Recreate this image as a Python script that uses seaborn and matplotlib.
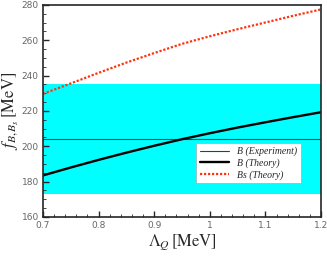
import numpy as np
import matplotlib
matplotlib.use("Agg")
import matplotlib.pyplot as plt
import seaborn as sns
import pandas as pd
from matplotlib.ticker import MultipleLocator

# data
lam = [0.70, 0.75, 0.80, 0.85, 0.90, 0.95, 1.00, 1.05, 1.10, 1.15, 1.20]
fB_theory = [183.5, 188.0, 192.3, 196.4, 200.3, 204.0, 207.4, 210.6, 213.6, 216.5, 219.3]
fBs_theory = [229.7, 235.6, 241.6, 247.4, 252.8, 258.0, 262.3, 266.3, 270.1, 273.9, 277.5]
fB_exp = 204.0
fB_exp_err = 31.0

df = pd.DataFrame({"lam": lam, "B": fB_theory, "Bs": fBs_theory})

sns.set_style("ticks")
plt.rcParams["mathtext.fontset"] = "stix"

fig = plt.figure(figsize=(3.27, 2.62), dpi=100)
ax = fig.add_axes([0.1315, 0.172, 0.8505, 0.809])

ax.axhspan(fB_exp - fB_exp_err, fB_exp + fB_exp_err, color="#00ffff", lw=0, zorder=0)
ax.axhline(fB_exp, color="#1a4a4a", lw=0.8, label="B (Experiment)")
sns.lineplot(data=df, x="lam", y="B", ax=ax, color="black", lw=1.7, label="B (Theory)")
sns.lineplot(data=df, x="lam", y="Bs", ax=ax, color="#ff3311", lw=1.6,
             linestyle=(0, (1, 0.8)), label="Bs (Theory)")

ax.set_xlim(0.7, 1.2)
ax.set_ylim(160, 280)
ax.xaxis.set_major_locator(MultipleLocator(0.1))
ax.xaxis.set_minor_locator(MultipleLocator(0.02))
ax.yaxis.set_major_locator(MultipleLocator(20))
ax.yaxis.set_minor_locator(MultipleLocator(5))
ax.xaxis.set_major_formatter(plt.FuncFormatter(lambda v, p: f"{v:g}"))
ax.tick_params(which="major", direction="in", length=4, width=1,
               labelsize=6.5, labelcolor="#666666", pad=3)
ax.tick_params(which="minor", direction="in", length=2, width=0.6)
for s in ax.spines.values():
    s.set_linewidth(1.2)

ax.set_xlabel(r"$\Lambda_Q\,[\mathrm{MeV}]$", fontsize=12, labelpad=2)
ax.set_ylabel(r"$f_{B,B_s}\,[\mathrm{MeV}]$", fontsize=12, labelpad=1)

leg = ax.legend(loc="lower right", bbox_to_anchor=(0.945, 0.135),
                frameon=True, fancybox=False, framealpha=1, edgecolor="#aaaaaa",
                handlelength=3, borderpad=0.4, labelspacing=0.2,
                prop={"family": "Liberation Serif", "style": "italic", "size": 7})
leg.get_frame().set_linewidth(0.5)

fig.savefig("out.png", dpi=100)
